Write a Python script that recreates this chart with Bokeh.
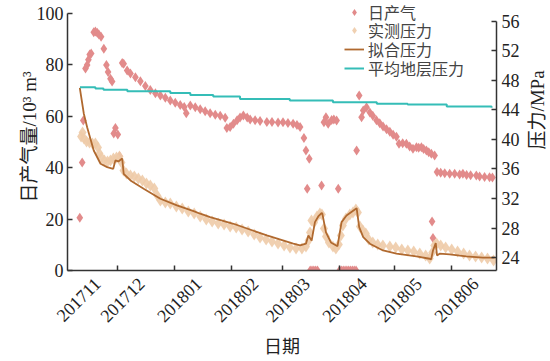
import math

from bokeh.plotting import figure
from bokeh.layouts import row
from bokeh.core.properties import value
from bokeh.models import (LinearAxis, Range1d, FixedTicker, Legend, LegendItem)
from bokeh.embed import file_html
from bokeh.resources import INLINE

# ---------------------------------------------------------------------------
# Data (x = days since 2017-11-01)
# ---------------------------------------------------------------------------
# Daily gas production, 10^3 m^3/d
gas_day = [9.5, 10.8, 11.4, 12.6, 13.5, 14.2, 14.9, 15.7, 17.1, 18.0, 19.0, 19.9,
           21.1, 22.6, 24.0, 24.9, 26.2, 27.1, 28.0, 28.9, 30.2, 31.2, 32.6, 33.4,
           35.3, 37.1, 39.8, 42.5, 45.2, 47.9, 50.7, 53.4, 56.1, 58.8, 61.5, 64.2,
           66.4, 67.5, 69.7, 72.4, 75.1, 77.8, 80.5, 83.3, 86.0, 88.7, 89.6, 91.4,
           93.2, 95.2, 96.8, 98.6, 100.7, 102.3, 105.0, 107.7, 111.4, 114.2, 117.5,
           120.2, 122.9, 125.7, 127.8, 129.5, 131.6, 132.7, 133.4, 134.5, 135, 136,
           137, 138, 139, 141.2, 142.5, 143.6, 144.8, 146.7, 147.9, 149.4, 150.3,
           151, 152, 153, 154, 155, 156, 157, 158, 159, 160, 160.3, 161.7, 163.0,
           163.9, 165.7, 167.5, 169.1, 171.1, 172.9, 174.7, 176.6, 178.4, 180.2,
           182.0, 183.4, 185.4, 187.4, 189.2, 191.0, 192.9, 194.1, 195.6, 196.8,
           198.3, 199.6, 201.0, 201.4, 201.9, 202.8, 204.1, 206.1, 208.3, 211.0,
           213.7, 216.4, 218.2, 220.2, 222.4, 225.5, 227.3, 230.0, 232.7, 234.3]
gas_rate = [20.5, 42.0, 58.4, 78.6, 80.0, 82.0, 84.0, 84.4, 92.7, 93.0, 92.5, 91.8,
            91.0, 86.3, 80.0, 77.2, 74.6, 73.5, 53.3, 55.4, 52.9, 44.5, 80.7, 80.4,
            77.8, 76.7, 75.2, 73.6, 71.8, 70.2, 69.0, 68.1, 67.2, 66.1, 65.3, 64.4,
            63.6, 61.2, 64.2, 63.5, 62.7, 62.0, 61.2, 60.6, 60.2, 59.4, 55.4, 55.8,
            57.1, 58.5, 59.5, 60.3, 59.5, 58.8, 58.5, 58.2, 57.8, 57.8, 57.6,
            57.7, 57.4, 57.1, 56.6, 55.8, 51.6, 46.7, 31.8, 43.5, 0, 0,
            0, 0, 0, 33.1, 57.7, 59.6, 57.1, 58.6, 58.8, 58.4, 31.8,
            0, 0, 0, 0, 0, 0, 0, 0, 0, 0, 46.7, 68.1, 59.6,
            62.3, 63.5, 61.5, 60.2, 58.5, 57.3, 56.0, 55.0, 54.0, 52.8,
            52.0, 49.3, 49.5, 49.3, 48.2, 47.4, 48.0, 47.8, 48.0, 47.3,
            46.7, 46.0, 45.4, 19.1, 12.6, 44.7, 38.3, 38.0, 37.8, 37.6,
            37.6, 37.4, 37.6, 37.2, 37.1, 37.0, 36.6, 36.4, 36.3, 36.2]

# Measured pressure, MPa
meas_day = [10.2, 11.0, 11.8, 13.2, 14.8, 16.4, 18.0, 19.4, 20.2, 21.3, 22.9, 24.6,
            26.2, 27.8, 29.5, 31.1, 32.2, 33.3, 34.9, 37.1, 39.2, 41.4, 43.6, 45.8,
            47.9, 50.1, 51.7, 53.4, 56.1, 58.8, 62.1, 65.3, 68.6, 71.8, 75.1, 78.4,
            81.6, 84.9, 88.1, 91.4, 94.7, 97.9, 101.2, 104.5, 107.7, 111.0, 114.2,
            117.5, 120.8, 124.0, 127.3, 130.5, 132.7, 134.1, 134.9, 135.7, 137.1,
            138.7, 140.3, 141.4, 142.5, 143.6, 145.2, 147.4, 149.0, 150.6, 151.7,
            152.8, 154.5, 156.6, 158.3, 159.9, 161.0, 162.1, 163.7, 165.3, 166.9,
            169.1, 171.8, 174.6, 178.4, 181.6, 184.9, 188.2, 191.4, 194.7, 197.9,
            200.1, 201.5, 202.6, 203.9, 206.1, 208.8, 212.1, 215.3, 218.6, 221.8,
            225.1, 228.4, 231.6, 234.9]
meas_p = [40.40, 40.94, 40.13, 39.72, 39.59, 39.45, 39.45, 38.91, 38.10, 37.56, 37.15, 37.02,
          37.15, 37.42, 37.56, 37.69, 36.88, 35.80, 35.39, 35.12, 34.99, 34.72, 34.45, 34.04,
          33.77, 33.37, 32.42, 31.75, 31.47, 31.34, 30.93, 30.66, 30.26, 29.99, 29.58, 29.18,
          28.91, 28.64, 28.50, 28.23, 28.09, 27.82, 27.55, 27.15, 26.74, 26.47, 26.20,
          25.93, 25.66, 25.39, 25.25, 25.25, 25.52, 26.33, 27.42, 29.04, 28.77,
          29.58, 29.99, 29.85, 27.96, 26.88, 26.06, 25.52, 25.25, 25.79, 27.01,
          28.36, 29.31, 29.85, 30.12, 30.53, 30.12, 28.23, 27.69, 27.28, 26.47,
          26.06, 25.79, 25.66, 25.52, 25.39, 25.12, 24.98, 24.85, 24.58, 24.31,
          23.90, 24.71, 25.66, 25.93, 25.66, 25.39, 25.12, 24.85, 24.58, 24.31,
          24.17, 24.04, 23.90, 23.63]

# History-matched (fitted) pressure, MPa
fit_day = [9.5, 11.7, 13.5, 17.1, 20.8, 24.4, 27.7, 28.9, 30.5, 32.6, 33.4, 37.1,
           44.3, 53.4, 62.4, 71.5, 75.1, 80.5, 93.2, 111.4, 125.8, 129.5, 132.7,
           134.0, 135.8, 137.6, 139.4, 141.2, 141.6, 143.6, 146.3, 149.9, 152.1,
           154.8, 160.3, 161.7, 163.9, 167.5, 174.7, 182.0, 192.9, 200.1, 200.9,
           201.9, 203.4, 204.1, 205.5, 211.0, 220.0, 229.1, 235.4]
fit_p = [46.98, 43.47, 41.65, 38.50, 36.71, 36.25, 36.03, 37.15, 37.02, 37.42, 35.35, 34.45,
         33.33, 31.97, 31.07, 30.30, 29.95, 29.49, 28.59, 27.01, 25.89, 25.66, 25.89,
         27.01, 26.33, 28.81, 29.58, 30.03, 30.00, 27.42, 26.06, 25.56, 28.81,
         29.72, 30.70, 28.13, 26.78, 25.89, 24.98, 24.54, 24.17, 23.86, 23.77,
         24.98, 25.97, 24.31, 24.54, 24.44, 24.17, 24.00, 24.00]

# Average formation pressure, MPa
avg_day = [9.6, 18.0, 22.4, 35.4, 58.8, 69.7, 82.2, 96.8, 123.9, 147.4, 171.3, 188.1,
           209.4, 233.8]
avg_p = [47.06, 46.90, 46.70, 46.51, 46.29, 45.99, 45.79, 45.48, 45.26, 45.03, 44.82, 44.72,
         44.45, 44.28]

# Axis ticks
month_day = [0, 30, 61, 92, 120, 151, 181, 212]
month_label = ["201711", "201712", "201801", "201802", "201803", "201804", "201805", "201806"]
gas_ticks = [0, 20, 40, 60, 80, 100]
press_ticks = [24, 28, 32, 36, 40, 44, 48, 52, 56]

# ---------------------------------------------------------------------------
# Styling
# ---------------------------------------------------------------------------
NUM_FONT = "'Liberation Serif', 'Noto Sans CJK SC'"
CJK_FONT = "'Liberation Serif', 'Noto Sans CJK SC'"
INK = "#222222"
AXIS = "#333333"
GAS_COLOR = "#E28B8B"
MEAS_COLOR = "#EECBA9"
FIT_COLOR = "#B0692F"
AVG_COLOR = "#35BDB7"

X_START, X_END = 2.8, 236.5
# a little headroom above the top tick so the legend's first row is not clipped
GAS_START, GAS_END = 0, 103.89
P_START, P_END = 22.27, 58.38
LABEL_SHIFT = 13  # rotated month labels sit to the right of their tick

MAIN_W, TITLE_W, H = 522, 28, 361

p = figure(width=MAIN_W, height=H, output_backend="svg", toolbar_location=None,
           x_range=Range1d(X_START, X_END), y_range=Range1d(GAS_START, GAS_END),
           x_axis_location=None, y_axis_location="left",
           min_border_left=67, min_border_right=25, min_border_top=3,
           min_border_bottom=91)
p.outline_line_color = None
p.grid.visible = False
p.background_fill_color = "white"
p.border_fill_color = "white"
p.extra_y_ranges = {"press": Range1d(P_START, P_END)}


def style_axis(ax, size="18px"):
    ax.axis_line_color = AXIS
    ax.axis_line_width = 1.5
    ax.major_tick_line_color = AXIS
    ax.major_tick_line_width = 1.5
    ax.major_tick_in = 5
    ax.major_tick_out = 0
    ax.minor_tick_line_color = None
    ax.major_label_text_font = NUM_FONT
    ax.major_label_text_font_size = size
    ax.major_label_text_color = INK
    ax.axis_label_text_font = CJK_FONT
    ax.axis_label_text_font_style = "normal"
    ax.axis_label_text_font_size = "19px"
    ax.axis_label_text_color = INK


# left axis: daily gas
yl = p.yaxis[0]
style_axis(yl)
yl.ticker = FixedTicker(ticks=gas_ticks)
yl.bounds = (0, gas_ticks[-1])
yl.major_label_standoff = 4
yl.axis_label = "日产气量/10³ m³"
yl.axis_label_standoff = -6

# right axis: pressure (its title lives in the narrow strip to the right)
yr = LinearAxis(y_range_name="press")
style_axis(yr)
yr.ticker = FixedTicker(ticks=press_ticks)
yr.bounds = (P_START, press_ticks[-1])
yr.major_label_standoff = 5
p.add_layout(yr, "right")

# bottom axis carrying the month tick marks
xt = LinearAxis(ticker=FixedTicker(ticks=month_day[1:]))
style_axis(xt, size="1px")
xt.major_label_text_color = None
xt.major_label_standoff = 0
p.add_layout(xt, "below")

# bottom axis carrying the rotated month labels
label_pos = [int(round(max(d, X_START + 3) + LABEL_SHIFT)) for d in month_day]
xl = LinearAxis(ticker=FixedTicker(ticks=label_pos))
style_axis(xl)
xl.axis_line_color = None
xl.major_tick_line_color = None
xl.major_tick_in = 0
xl.major_label_overrides = {pos: lab for pos, lab in zip(label_pos, month_label)}
xl.major_label_orientation = math.pi / 4
xl.major_label_standoff = 10
xl.axis_label = "日期"
xl.axis_label_text_font_size = "18px"
xl.axis_label_standoff = 6
p.add_layout(xl, "below")

# ---------------------------------------------------------------------------
# Series
# ---------------------------------------------------------------------------
r_gas = p.scatter(gas_day, gas_rate, marker="diamond", size=10,
                  fill_color=GAS_COLOR, line_color=None)
r_meas = p.scatter(meas_day, meas_p, y_range_name="press", marker="diamond", size=12,
                   fill_color=MEAS_COLOR, line_color=None, fill_alpha=0.9)
r_fit = p.line(fit_day, fit_p, y_range_name="press", line_color=FIT_COLOR, line_width=1.8)
r_avg = p.step(avg_day, avg_p, y_range_name="press", mode="after",
               line_color=AVG_COLOR, line_width=2)

# legend: one single-row legend per series so the rows can sit close together
legend_rows = [("日产气", r_gas, 246), ("实测压力", r_meas, 228),
               ("拟合压力", r_fit, 209), ("平均地层压力", r_avg, 190)]
for name, rend, ly in legend_rows:
    lg = Legend(items=[LegendItem(label=name, renderers=[rend])], location=(277, ly))
    lg.border_line_color = None
    lg.background_fill_alpha = 0
    lg.padding = 0
    lg.spacing = 0
    lg.margin = 0
    lg.glyph_width = 20
    lg.glyph_height = 18
    lg.label_height = 18
    lg.label_standoff = 4
    lg.label_text_font = CJK_FONT
    lg.label_text_font_size = "16px"
    lg.label_text_color = "#444444"
    p.add_layout(lg)

# ---------------------------------------------------------------------------
# Right-hand axis title, drawn in a narrow strip beside the chart so it can
# read bottom-to-top like the left-hand title
# ---------------------------------------------------------------------------
t = figure(width=TITLE_W, height=H, output_backend="svg", toolbar_location=None,
           x_range=Range1d(0, TITLE_W), y_range=Range1d(0, H),
           x_axis_location=None, y_axis_location=None,
           min_border=0, min_border_left=0, min_border_right=0,
           min_border_top=0, min_border_bottom=0)
t.outline_line_color = None
t.grid.visible = False
t.text(x=[15], y=[H - 144], text=["压力/MPa"], angle=math.pi / 2,
       text_align="center", text_baseline="middle",
       text_font=value(CJK_FONT), text_font_size="19px", text_color=INK)

layout = row(p, t, spacing=0)
open("out.html", "w").write(file_html(layout, INLINE))
